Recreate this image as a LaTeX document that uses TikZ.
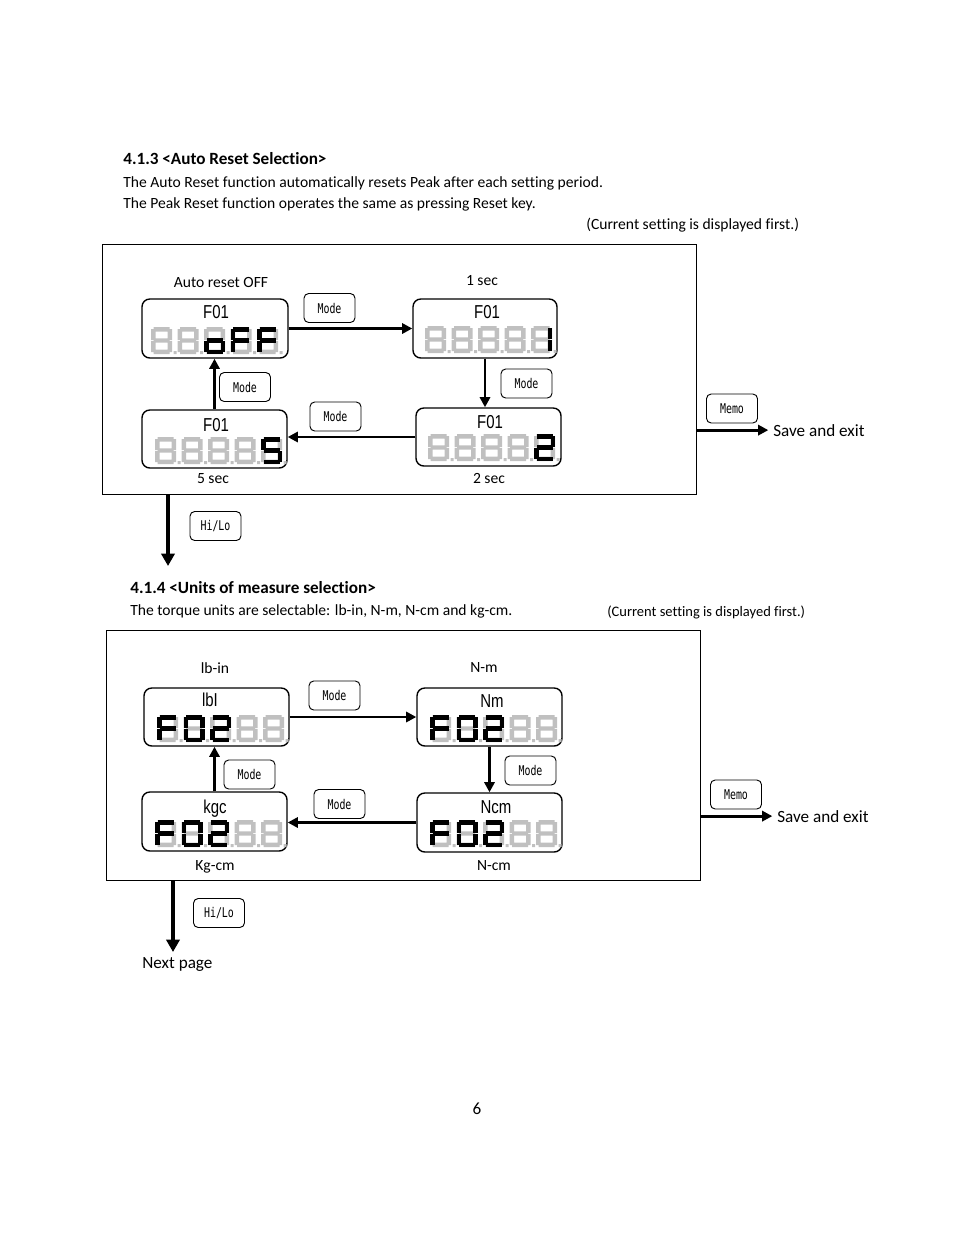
\documentclass[tikz,border=0pt]{standalone}
\usepackage{fontspec}
\setmainfont{Carlito}[Ligatures=NoCommon]
\newfontfamily\dispfont[FakeStretch=0.8]{Liberation Sans}
\newfontfamily\btnfont[FakeStretch=0.74]{DejaVu Sans Mono}
\usetikzlibrary{arrows.meta,fit}
\definecolor{seggray}{RGB}{192,192,192}
% seven segment geometry (cell 21 x 27 px)
\def\sga{(2.5,0) rectangle (18.5,4.5)}
\def\sgb{(16.5,2) rectangle (21,13)}
\def\sgc{(16.5,14) rectangle (21,25)}
\def\sgd{(2.5,22.5) rectangle (18.5,27)}
\def\sge{(0,14) rectangle (4.5,25)}
\def\sgf{(0,2) rectangle (4.5,13)}
\def\sgg{(2.5,11.3) rectangle (18.5,15.7)}
\def\sgp{(22.5,24) rectangle (25.5,27)}
\def\sgn{}
\newcommand\dgt[3]{%
  \begin{scope}[shift={(#1,#2)}]
    \fill[seggray] \sga \sgb \sgc \sgd \sge \sgf \sgg \sgp;
    \foreach \s in {#3}{\edef\segtmp{\csname sg\s\endcsname}\fill[black] \segtmp;}
  \end{scope}}
\newcommand\drow[7]{%
  \dgt{#1}{#2}{#3}\dgt{#1+26.5}{#2}{#4}\dgt{#1+53}{#2}{#5}\dgt{#1+79.5}{#2}{#6}\dgt{#1+106}{#2}{#7}}
\begin{document}
\begin{tikzpicture}[x=0.6415pt,y=-0.6415pt,
  disp/.style={draw, line width=0.9pt, rounded corners=5pt, inner sep=0pt},
  frame/.style={draw, line width=0.6pt, inner sep=0pt},
  btn/.style={draw, line width=0.6pt, rounded corners=3pt, minimum width=51*0.6415pt,
    minimum height=29*0.6415pt, inner sep=0pt, font=\btnfont\fontsize{8.6}{10}\selectfont},
  marr/.style={line width=1.9pt, -{Triangle[length=6.5pt,width=6.5pt]}},
  darr/.style={line width=2.6pt, -{Triangle[length=8pt,width=8.5pt]}},
  txt/.style={inner sep=0pt, anchor=base west, font=\fontsize{10}{12}\selectfont},
  htxt/.style={txt, font=\fontsize{11}{13}\selectfont\bfseries},
  stxt/.style={txt, font=\fontsize{11}{13}\selectfont},
  ntxt/.style={txt, font=\fontsize{10}{12}\selectfont},
  lbl/.style={inner sep=0pt, anchor=base, font=\fontsize{10}{12}\selectfont},
  ttl/.style={inner sep=0pt, anchor=base, font=\dispfont\fontsize{12}{14}\selectfont}]
\useasboundingbox (0,0) rectangle (954,1235);

% ---------------- Section 4.1.3 ----------------
\node[htxt] (h1) at (123,164) {4.1.3 <Auto Reset Selection>};
\node[txt] (t1a) at (123,187) {The Auto Reset function automatically resets Peak after each setting period.};
\node[txt] (t1b) at (123,208) {The Peak Reset function operates the same as pressing Reset key.};
\node[ntxt] (c1) at (586,229) {(Current setting is displayed first.)};

\node[frame, fit={(102,244) (696,494)}] (box1) {};

\node[disp, fit={(142,299) (288,358)}] (d1) {};
\node[disp, fit={(413,299) (557,358)}] (d2) {};
\node[disp, fit={(416,408) (561,466)}] (d3) {};
\node[disp, fit={(142,410) (287,468)}] (d4) {};

\node[ttl] (d1t) at (216,318) {F01};
\node[ttl] (d2t) at (487,318) {F01};
\node[ttl] (d3t) at (490,428) {F01};
\node[ttl] (d4t) at (216,431) {F01};

\drow{151}{327}{n}{n}{c,d,e,g}{a,e,f,g}{a,e,f,g}
\drow{425}{326}{n}{n}{n}{n}{b,c}
\drow{428}{434}{n}{n}{n}{n}{a,b,d,e,g}
\drow{155}{437}{n}{n}{n}{n}{a,c,d,f,g}

\node[lbl] (l1) at (221,287) {Auto reset OFF};
\node[lbl] (l2) at (482,285) {1 sec};
\node[lbl] (l3) at (213,483) {5 sec};
\node[lbl] (l4) at (489,483) {2 sec};

\node[btn] (m1) at (329.5,308) {Mode};
\node[btn] (m2) at (245,387) {Mode};
\node[btn] (m3) at (526.5,383.5) {Mode};
\node[btn] (m4) at (335.5,416.5) {Mode};
\node[btn] (memo1) at (732,408.5) {Memo};
\node[btn] (hl1) at (215.5,526) {Hi/Lo};

\draw[marr] (d1.east) -- (d2.west);
\draw[marr] (d2.south) -- (d2.south |- d3.north);
\draw[marr] (d3.west) -- (d3.west -| d4.east);
\draw[marr] (d4.north) -- (d4.north |- d1.south);

\node[stxt] (save1) at (773,436) {Save and exit};
\draw[marr, shorten >=3pt] (box1.east |- save1.west) -- (save1.west);
\coordinate (dn1) at (168,566);
\draw[darr] (box1.south -| dn1) -- (dn1);

% ---------------- Section 4.1.4 ----------------
\node[htxt] (h2) at (130,593) {4.1.4 <Units of measure selection>};
\node[txt] (t2) at (130,615) {The torque units are selectable: lb-in, N-m, N-cm and kg-cm.};
\node[ntxt, font=\fontsize{9.3}{11}\selectfont] (c2) at (607,616) {(Current setting is displayed first.)};

\node[frame, fit={(106,630) (700,880)}] (box2) {};

\node[disp, fit={(144,688) (289,746)}] (e1) {};
\node[disp, fit={(417,688) (562,746)}] (e2) {};
\node[disp, fit={(417,793) (562,852)}] (e3) {};
\node[disp, fit={(142,792) (287,851)}] (e4) {};

\node[ttl] (e1t) at (210,706) {lbI};
\node[ttl] (e2t) at (492,707) {Nm};
\node[ttl] (e3t) at (496,813) {Ncm};
\node[ttl] (e4t) at (215,813) {kgc};

\drow{157}{715}{a,e,f,g}{a,b,c,d,e,f}{a,b,d,e,g}{n}{n}
\drow{430}{715}{a,e,f,g}{a,b,c,d,e,f}{a,b,d,e,g}{n}{n}
\drow{430}{820}{a,e,f,g}{a,b,c,d,e,f}{a,b,d,e,g}{n}{n}
\drow{155}{820}{a,e,f,g}{a,b,c,d,e,f}{a,b,d,e,g}{n}{n}

\node[lbl] (k1) at (215,673) {lb-in};
\node[lbl] (k2) at (484,672) {N-m};
\node[lbl] (k3) at (215,870) {Kg-cm};
\node[lbl] (k4) at (494,870) {N-cm};

\node[btn] (n1) at (334.5,695.5) {Mode};
\node[btn] (n2) at (249.5,774.5) {Mode};
\node[btn] (n3) at (530.5,770.5) {Mode};
\node[btn] (n4) at (339.5,804) {Mode};
\node[btn] (memo2) at (736,794.5) {Memo};
\node[btn] (hl2) at (219,913) {Hi/Lo};

\draw[marr] (e1.east) -- (e2.west);
\draw[marr] (e2.south) -- (e2.south |- e3.north);
\draw[marr] (e3.west) -- (e3.west -| e4.east);
\draw[marr] (e4.north) -- (e4.north |- e1.south);

\node[stxt] (save2) at (777,822) {Save and exit};
\draw[marr, shorten >=3pt] (box2.east |- save2.west) -- (save2.west);
\coordinate (dn2) at (173,952);
\draw[darr] (box2.south -| dn2) -- (dn2);

\node[stxt] (next) at (142,968) {Next page};
\node[lbl, font=\fontsize{11}{13}\selectfont] (pg) at (477,1114) {6};
\end{tikzpicture}
\end{document}
